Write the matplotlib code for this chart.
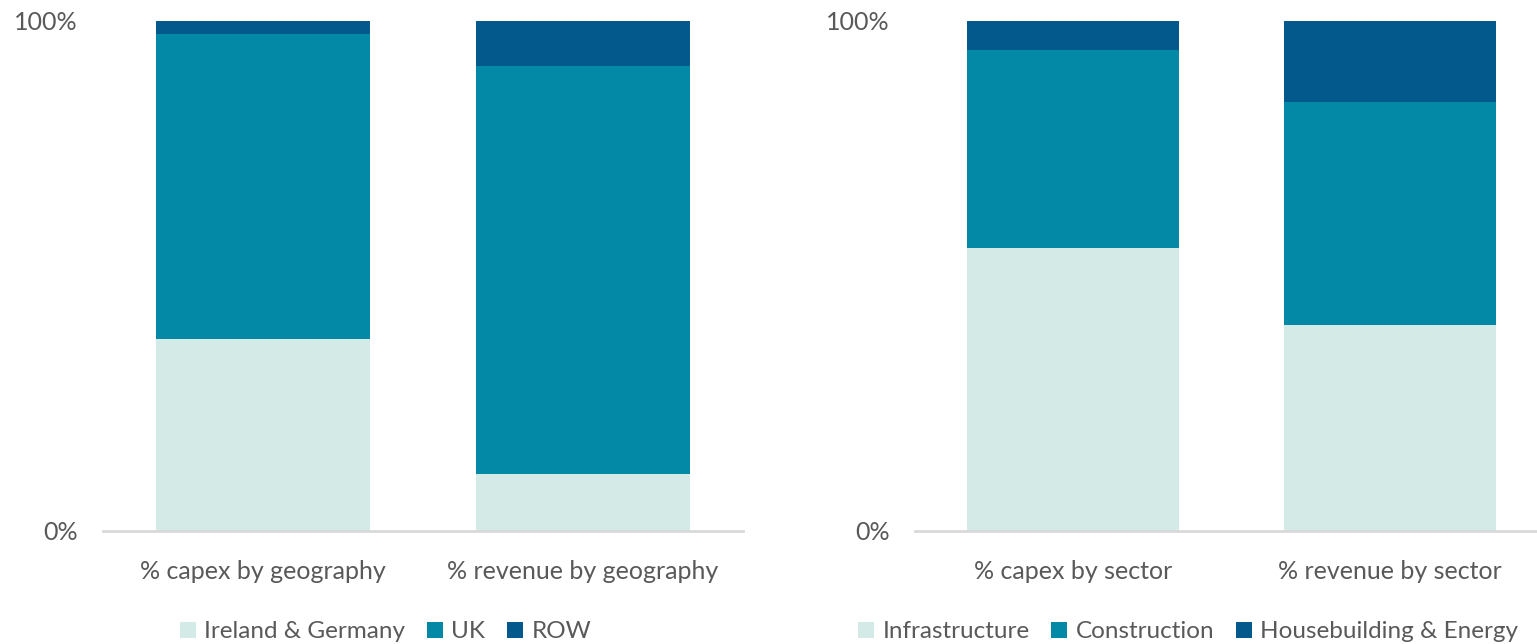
import matplotlib.pyplot as plt

# data (fractions of 100%)
geo_cats = ["% capex by geography", "% revenue by geography"]
geo_ireland = [0.376, 0.112]
geo_uk = [0.599, 0.800]
geo_row = [0.025, 0.088]

sec_cats = ["% capex by sector", "% revenue by sector"]
sec_infra = [0.555, 0.404]
sec_constr = [0.388, 0.437]
sec_house = [0.057, 0.159]

light = "#d3eae7"
mid = "#0388a6"
dark = "#03598b"
grey_txt = "#595959"

plt.rcParams['font.family'] = ['Lato', 'DejaVu Sans']

fig = plt.figure(figsize=(15.37, 6.44), dpi=100)
W, H = 1537, 644
FS = 18


def panel(left_px, width_px, cats, s1, s2, s3):
    ax = fig.add_axes([left_px / W, (H - 531) / H, width_px / W, 510 / H])
    x = range(len(cats))
    b1 = ax.bar(x, s1, width=0.67, color=light)
    bot = s1
    b2 = ax.bar(x, s2, width=0.67, bottom=bot, color=mid)
    bot = [a + b for a, b in zip(s1, s2)]
    b3 = ax.bar(x, s3, width=0.67, bottom=bot, color=dark)
    ax.set_xlim(-0.5, 1.5)
    ax.set_ylim(0, 1)
    ax.set_yticks([0, 1])
    ax.set_yticklabels(["0%", "100%"])
    ax.set_xticks(list(x))
    ax.set_xticklabels(cats)
    ax.tick_params(axis='both', length=0, labelsize=FS, colors=grey_txt)
    ax.tick_params(axis='y', pad=18)
    ax.tick_params(axis='x', pad=21)
    for s in ["top", "right", "left"]:
        ax.spines[s].set_visible(False)
    ax.spines["bottom"].set_color("#d9d9d9")
    ax.spines["bottom"].set_linewidth(2)
    return ax, (b1, b2, b3)


ax1, h1 = panel(103, 640, geo_cats, geo_ireland, geo_uk, geo_row)
ax2, h2 = panel(915, 633, sec_cats, sec_infra, sec_constr, sec_house)

leg_kw = dict(loc="center left", ncol=3, frameon=False, fontsize=17.5,
              handlelength=0.65, handleheight=0.65, handletextpad=0.35,
              columnspacing=0.9, labelcolor=grey_txt, borderpad=0,
              borderaxespad=0)
fig.legend(h1, ["Ireland & Germany", "UK", "ROW"],
           bbox_to_anchor=(180 / W, (H - 632) / H), **leg_kw)
fig.legend(h2, ["Infrastructure", "Construction", "Housebuilding & Energy"],
           bbox_to_anchor=(858 / W, (H - 632) / H), **leg_kw)

fig.savefig("out.png", dpi=100)
